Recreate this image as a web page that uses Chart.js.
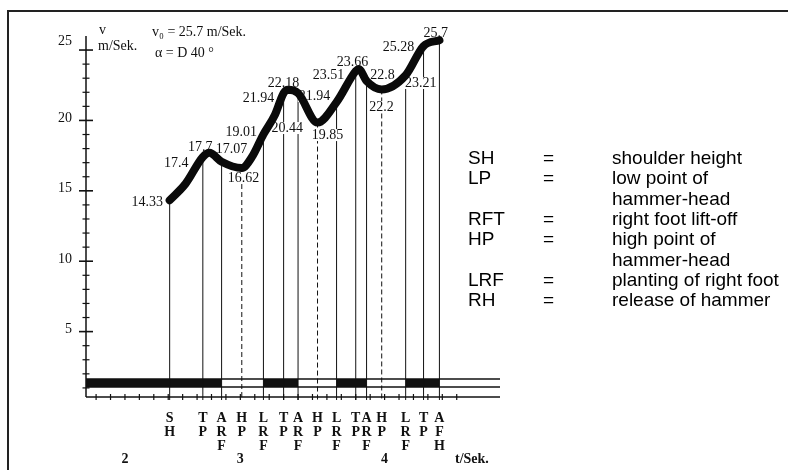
<!DOCTYPE html>
<html lang="en">
<head>
  <meta charset="UTF-8" />
  <title>Hammer head velocity</title>
  <script src="https://cdn.jsdelivr.net/npm/chart.js@4"></script>
  <style>
    body {
      margin: 0;
      background: #fff;
    }
    #wrap {
      position: relative;
      width: 788px;
      height: 470px;
      overflow: hidden;
    }
    #frame {
      position: absolute;
      left: 7px;
      top: 10px;
      width: 800px;
      height: 480px;
      border-top: 2px solid #222;
      border-left: 2px solid #222;
    }
    canvas {
      position: absolute;
      left: 0;
      top: 0;
    }
    .legend-row {
      position: absolute;
      height: 20px;
      line-height: 20px;
      font-family: "Liberation Sans", Arial, sans-serif;
      font-size: 19px;
      color: #000;
      white-space: nowrap;
    }
    .legend-row span {
      position: absolute;
      top: 0;
    }
  </style>
</head>
<body>
  <div id="wrap">
    <div id="frame"></div>
    <canvas id="speedChart" width="788" height="470"></canvas>
    <div id="legend"></div>
  </div>

  <script>
    // Phasen der Drehung: Zeitpunkt (s) und Geschwindigkeit des Hammerkopfes (m/s)
    const eventNames  = ['SH', 'TP', 'ARF', 'HP', 'LRF', 'TP', 'ARF', 'HP', 'LRF', 'TP', 'ARF', 'HP', 'LRF', 'TP', 'AFH'];
    const eventTimes  = [2.51, 2.74, 2.87, 3.01, 3.16, 3.30, 3.40, 3.535, 3.667, 3.80, 3.875, 3.98, 4.146, 4.27, 4.38];
    const eventSpeeds = [14.33, 17.4, 17.07, 16.62, 19.01, 21.94, 21.94, 19.85, 21.3, 23.51, 22.8, 22.2, 23.21, 25.28, 25.7];

    const extraTimes  = [2.62, 2.785, 3.08, 3.24, 3.33, 3.82];
    const extraSpeeds = [15.5, 17.7, 17.4, 20.4, 22.18, 23.66];

    // Zahlen an der Kurve und wo sie stehen (t, v)
    const valueLabels = ['14.33', '17.4', '17.7', '17.07', '16.62', '19.01', '21.94', '22.18', '21.94',
                         '20.44', '19.85', '23.51', '23.66', '22.8', '22.2', '25.28', '23.21', '25.7'];
    const labelTimes  = [2.354, 2.556, 2.722, 2.938, 3.021, 3.007, 3.125, 3.299, 3.514,
                         3.326, 3.604, 3.611, 3.778, 3.986, 3.979, 4.097, 4.25, 4.354];
    const labelLevels = [14.20, 16.97, 18.11, 17.97, 15.91, 19.18, 21.59, 22.66, 21.73,
                         19.46, 18.96, 23.22, 24.15, 23.22, 20.95, 25.21, 22.66, 26.21];

    const yTickLabels = ['5', '10', '15', '20', '25'];
    const timeLabels  = ['2', '3', '4'];
    const timeLabelAt = [2.2, 3.0, 4.0];

    const legendKeys  = ['SH', 'LP', '', 'RFT', 'HP', '', 'LRF', 'RH'];
    const legendTexts = ['shoulder height', 'low point of', 'hammer-head', 'right foot lift-off',
                         'high point of', 'hammer-head', 'planting of right foot', 'release of hammer'];

    const INK = '#111';
    const SERIF = '"Liberation Serif", "Times New Roman", serif';

    // Kurve: Phasenpunkte + Zusatzpunkte, nach Zeit sortiert
    const curve = eventTimes.map((t, i) => ({ x: t, y: eventSpeeds[i] }))
      .concat(extraTimes.map((t, i) => ({ x: t, y: extraSpeeds[i] })))
      .sort((a, b) => a.x - b.x);

    // Doppelstützphasen (schwarzer Balken): vom Aufsetzen bis zum Abheben des rechten Fußes
    function supportPhases(startT) {
      const phases = [];
      let from = startT;
      eventNames.forEach((n, i) => {
        if (n === 'LRF') from = eventTimes[i];
        if ((n === 'ARF' || n === 'AFH') && from !== null) {
          phases.push([from, eventTimes[i]]);
          from = null;
        }
      });
      return phases;
    }

    function line(ctx, x1, y1, x2, y2) {
      ctx.beginPath();
      ctx.moveTo(x1, y1);
      ctx.lineTo(x2, y2);
      ctx.stroke();
    }

    const diagram = {
      id: 'diagram',
      beforeDatasetsDraw(chart) {
        const { ctx, chartArea: a, scales: { x, y } } = chart;
        ctx.save();
        ctx.strokeStyle = INK;
        ctx.fillStyle = INK;

        // y-Achse mit Kreuzstrichen
        ctx.lineWidth = 1.5;
        line(ctx, a.left, a.bottom, a.left, y.getPixelForValue(26));
        for (let v = 1; v <= 25; v++) {
          const py = y.getPixelForValue(v);
          const half = v % 5 === 0 ? 7 : 3.5;
          ctx.lineWidth = v % 5 === 0 ? 1.6 : 1.2;
          line(ctx, a.left - half, py, a.left + half, py);
        }
        ctx.font = '14px ' + SERIF;
        ctx.textAlign = 'right';
        ctx.textBaseline = 'middle';
        yTickLabels.forEach(s => {
          const dy = s === '25' ? -9 : -2;   // oberste Zahl steht im Original höher
          ctx.fillText(s, a.left - 14, y.getPixelForValue(+s) + dy);
        });

        // Balken unten
        const yTop = a.bottom - 18, yMid = a.bottom - 10;
        supportPhases(x.min).forEach(([t0, t1]) => {
          const x0 = x.getPixelForValue(t0), x1 = x.getPixelForValue(t1);
          ctx.fillRect(x0, yTop, x1 - x0, yMid - yTop);
        });
        ctx.lineWidth = 1.5;
        [yTop, yMid, a.bottom].forEach(py => line(ctx, a.left, py, a.right, py));
        ctx.lineWidth = 1.2;
        for (let k = 20; k <= 45; k++) {
          const px = x.getPixelForValue(k / 10);
          line(ctx, px, a.bottom - 3, px, a.bottom + 3);
        }

        // senkrechte Linien der Phasen
        ctx.lineWidth = 1;
        eventNames.forEach((n, i) => {
          const px = x.getPixelForValue(eventTimes[i]);
          ctx.setLineDash(n === 'HP' ? [5, 3] : []);
          line(ctx, px, y.getPixelForValue(eventSpeeds[i]), px, a.bottom + 3);
        });
        ctx.setLineDash([]);

        // weiße Hinterlegung der Zahlen
        ctx.font = '14px ' + SERIF;
        ctx.fillStyle = '#fff';
        valueLabels.forEach((s, i) => {
          const w = ctx.measureText(s).width;
          const px = x.getPixelForValue(labelTimes[i]);
          const py = y.getPixelForValue(labelLevels[i]);
          ctx.fillRect(px - w / 2 - 1, py - 6, w + 2, 12);
        });
        ctx.restore();
      },
      afterDatasetsDraw(chart) {
        const { ctx, chartArea: a, scales: { x, y } } = chart;
        ctx.save();
        ctx.fillStyle = INK;
        ctx.textAlign = 'center';
        ctx.textBaseline = 'middle';

        ctx.font = '14px ' + SERIF;
        valueLabels.forEach((s, i) => {
          ctx.fillText(s, x.getPixelForValue(labelTimes[i]), y.getPixelForValue(labelLevels[i]));
        });

        // Buchstaben unter den Phasen
        ctx.font = 'bold 14px ' + SERIF;
        eventNames.forEach((n, i) => {
          const px = x.getPixelForValue(eventTimes[i]);
          n.split('').forEach((c, r) => ctx.fillText(c, px, a.bottom + 21 + r * 14));
        });
        timeLabels.forEach((s, i) => {
          ctx.fillText(s, x.getPixelForValue(timeLabelAt[i]), a.bottom + 62);
        });
        ctx.textAlign = 'left';
        ctx.fillText('t/Sek.', a.right - 45, a.bottom + 62);

        // Achsenbezeichnung und Kennwerte
        ctx.font = '14px ' + SERIF;
        ctx.fillText('v', a.left + 13, 30);
        ctx.fillText('m/Sek.', a.left + 12, 46);
        ctx.fillText('v\u2080 = 25.7 m/Sek.', a.left + 66, 32);
        ctx.fillText('\u03b1 = D 40 \u00b0', a.left + 69, 53);
        ctx.restore();
      }
    };

    const ctx = document.getElementById('speedChart').getContext('2d');
    new Chart(ctx, {
      type: 'scatter',
      data: {
        datasets: [{
          data: curve,
          showLine: true,
          borderColor: '#0a0a0a',
          borderWidth: 8,
          borderCapStyle: 'round',
          borderJoinStyle: 'round',
          pointRadius: 0,
          cubicInterpolationMode: 'monotone',
          clip: false
        }]
      },
      options: {
        responsive: false,
        animation: false,
        devicePixelRatio: 1,
        layout: { padding: { left: 86, right: 288, top: 14, bottom: 73 } },
        plugins: { legend: { display: false }, tooltip: { enabled: false } },
        scales: {
          x: { type: 'linear', min: 1.93, max: 4.80, display: false },
          y: { type: 'linear', min: 0.355, max: 27.56, display: false }
        }
      },
      plugins: [diagram]
    });

    // Legende rechts
    const legend = document.getElementById('legend');
    legendTexts.forEach((txt, i) => {
      const row = document.createElement('div');
      row.className = 'legend-row';
      row.style.left = '468px';
      row.style.top = (148 + i * 20.3) + 'px';
      row.innerHTML = `<span style="left:0">${legendKeys[i]}</span>` +
        (legendKeys[i] ? `<span style="left:75px">=</span>` : '') +
        `<span style="left:144px">${txt}</span>`;
      legend.appendChild(row);
    });
  </script>
</body>
</html>
